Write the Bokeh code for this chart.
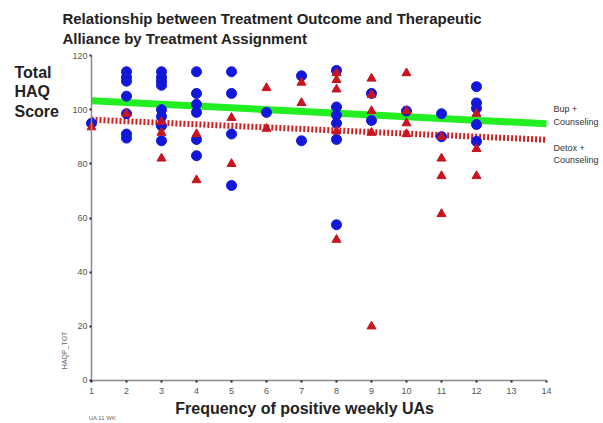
from bokeh.plotting import figure
from bokeh.models import Range1d, Label, FixedTicker
from bokeh.embed import file_html
from bokeh.resources import INLINE

# ---- data ----
bup_x = [1,
         2, 2, 2, 2, 2, 2, 2,
         3, 3, 3, 3, 3, 3, 3, 3,
         4, 4, 4, 4, 4, 4,
         5, 5, 5, 5,
         6,
         7, 7,
         8, 8, 8, 8, 8, 8,
         9, 9,
         10,
         11, 11,
         12, 12, 12, 12, 12]
bup_y = [95,
         114, 112, 110.5, 105, 98.5, 91, 89.5,
         114, 112, 110.5, 109, 100, 97.5, 94, 88.5,
         114, 106, 102, 99, 89, 83,
         114, 106, 91, 72,
         99,
         112.5, 88.5,
         114.5, 101, 98, 95, 89, 57.5,
         106, 96,
         99.5,
         98.5, 90,
         108.5, 102.5, 100.5, 94.5, 88.3]

detox_x = [1,
           2,
           3, 3, 3,
           4, 4,
           5, 5,
           6, 6,
           7, 7,
           8, 8, 8, 8, 8,
           9, 9, 9, 9, 9,
           10, 10, 10, 10,
           11, 11, 11, 11,
           12, 12, 12]
detox_y = [93.5,
           98.5,
           95.5, 91.5, 82,
           91, 74,
           97, 80,
           108, 93,
           110, 102.5,
           113.5, 111, 107.5, 92, 52,
           111.5, 105.5, 99.5, 91.5, 20,
           113.5, 99.5, 95, 91,
           90, 82, 75.5, 61.5,
           98.5, 85.5, 75.5]

fit_x = [1, 14]
bup_fit = [103.3, 94.8]
detox_fit = [96.3, 88.9]

x_ticks = list(range(1, 15))
y_ticks = [0, 20, 40, 60, 80, 100, 120]

title_lines = ["Relationship between Treatment Outcome and Therapeutic",
               "Alliance by Treatment Assignment"]
y_title_lines = ["Total", "HAQ", "Score"]
x_title = "Frequency of positive weekly UAs"
legend_bup = ["Bup +", "Counseling"]
legend_detox = ["Detox +", "Counseling"]

BLUE = "#1218DA"
RED = "#C8141E"
GREEN = "#22EE22"
FONT = "Liberation Sans"

# frame covers the whole canvas; axes sit at fixed data locations
p = figure(width=600, height=420,
           x_range=Range1d(-1.6, 15.543), y_range=Range1d(-14.77, 140.31),
           output_backend="svg", toolbar_location=None,
           min_border=0, min_border_left=0, min_border_right=0,
           min_border_top=0, min_border_bottom=0)
p.outline_line_color = None
p.grid.grid_line_color = None
p.background_fill_color = "white"
p.border_fill_color = "white"

for ax in (p.xaxis[0], p.yaxis[0]):
    ax.axis_line_color = "#8a8a8a"
    ax.axis_line_width = 1.5
    ax.major_tick_line_color = "#222222"
    ax.major_tick_line_width = 2
    ax.major_tick_in = 0
    ax.major_tick_out = 2
    ax.minor_tick_line_color = None
    ax.major_label_text_font = FONT
    ax.major_label_text_font_size = "9px"
    ax.major_label_text_color = "#555555"

p.xaxis.ticker = FixedTicker(ticks=x_ticks)
p.yaxis.ticker = FixedTicker(ticks=y_ticks)
p.xaxis.bounds = (1, 14)
p.yaxis.bounds = (0, 120)
p.xaxis.fixed_location = 0
p.yaxis.fixed_location = 1
p.xaxis.major_label_standoff = 6
p.yaxis.major_label_standoff = 2

# regression lines
p.line(fit_x, bup_fit, line_color=GREEN, line_width=7)
p.line(fit_x, detox_fit, line_color="#D42020", line_width=6, line_dash="2 2")

# points
p.scatter(bup_x, bup_y, marker="circle", size=10, fill_color=BLUE, line_color=BLUE)
p.scatter(detox_x, detox_y, marker="triangle", size=9, fill_color=RED, line_color=RED)

def add_label(text, x, y, size, bold=False, color="#222222", align="left", angle=0):
    p.add_layout(Label(x=x, y=y, text=text, text_font=FONT,
                       text_font_size=size,
                       text_font_style="bold" if bold else "normal",
                       text_color=color, text_align=align,
                       text_baseline="middle", angle=angle))

add_label(title_lines[0], 0.17, 133.7, "15px", bold=True)
add_label(title_lines[1], 0.17, 126.3, "15px", bold=True)
for txt, yy in zip(y_title_lines, [113.7, 106.7, 99.4]):
    add_label(txt, -1.2, yy, "16px", bold=True)
add_label(x_title, 7.09, -10.3, "16px", bold=True, align="center")
add_label("UA 11 WK", 0.92, -13.7, "6px", color="#666666")
add_label("HAQP_TOT", 0.23, 11.1, "7px", color="#666666", align="center", angle=1.5708)
add_label(legend_bup[0], 14.2, 100.4, "9px", color="#333333")
add_label(legend_bup[1], 14.2, 95.6, "9px", color="#333333")
add_label(legend_detox[0], 14.2, 86.0, "9px", color="#333333")
add_label(legend_detox[1], 14.2, 81.6, "9px", color="#333333")

open("out.html", "w").write(file_html(p, INLINE))
